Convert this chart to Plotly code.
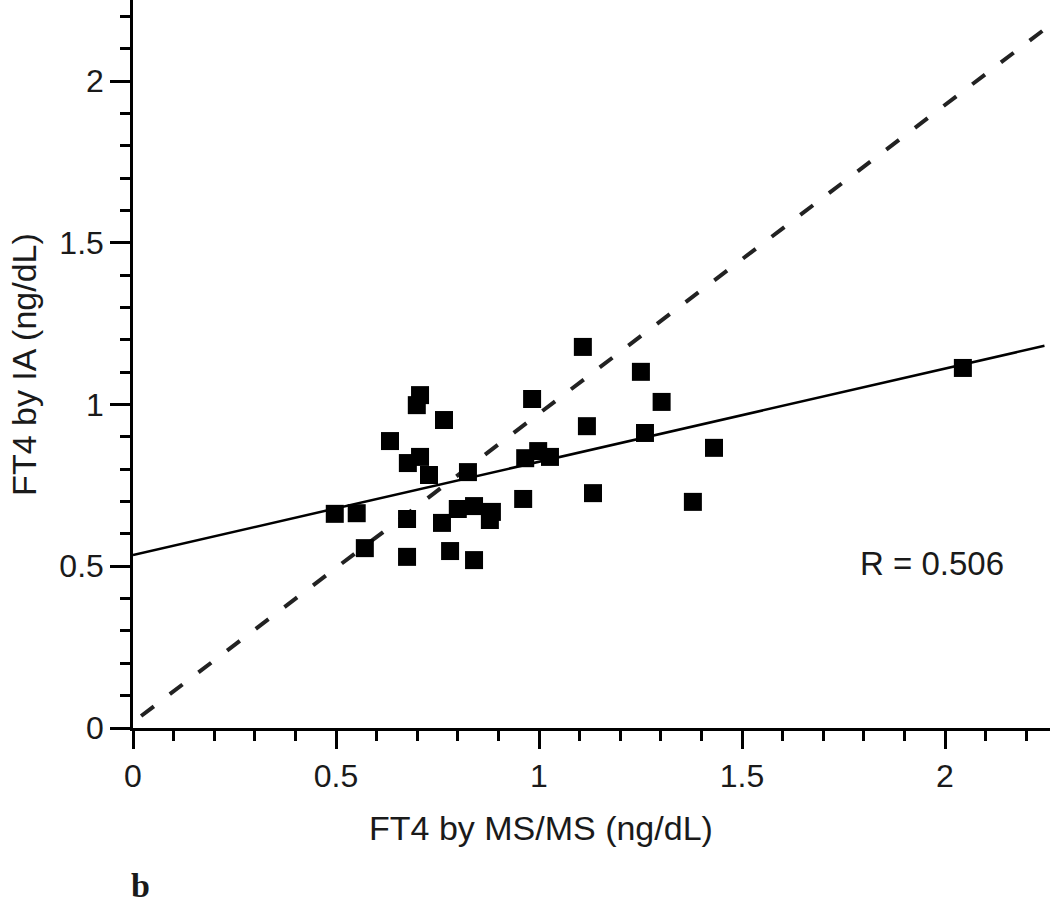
import plotly.graph_objects as go

# Data
ms_ms = [0.707, 0.699, 0.766, 0.633, 0.983, 0.677, 0.707, 0.729, 0.825, 0.966,
         0.998, 1.027, 0.497, 0.551, 0.961, 0.675, 0.761, 0.800, 0.840, 0.884,
         0.879, 0.571, 0.675, 0.781, 0.840, 1.108, 1.251, 1.302, 1.118, 1.261,
         1.431, 1.133, 1.379, 2.044]
ia = [1.029, 0.998, 0.952, 0.887, 1.017, 0.819, 0.838, 0.782, 0.791, 0.834,
      0.856, 0.838, 0.662, 0.664, 0.708, 0.646, 0.634, 0.677, 0.686, 0.668,
      0.643, 0.556, 0.529, 0.547, 0.519, 1.178, 1.101, 1.008, 0.933, 0.912,
      0.866, 0.726, 0.699, 1.113]

# Fitted lines
reg_intercept, reg_slope = 0.535, 0.288
reg_x = [0.0, 2.245]
dash_intercept, dash_slope = 0.018, 0.954
dash_x = [0.02, 2.24]

r_label = "R = 0.506"
x_title = "FT4 by MS/MS (ng/dL)"
y_title = "FT4 by IA (ng/dL)"
panel_label = "b"

x_ticks = [0, 0.5, 1, 1.5, 2]
y_ticks = [0, 0.5, 1, 1.5, 2]

FONT = "Liberation Sans, Arial, sans-serif"
TXT = "#1a1a1a"

fig = go.Figure()

fig.add_trace(go.Scatter(
    x=dash_x, y=[dash_intercept + dash_slope * v for v in dash_x],
    mode="lines", line=dict(color="#222", width=4, dash="16px,20px"),
    hoverinfo="skip", showlegend=False))

fig.add_trace(go.Scatter(
    x=reg_x, y=[reg_intercept + reg_slope * v for v in reg_x],
    mode="lines", line=dict(color="#000", width=2.5),
    hoverinfo="skip", showlegend=False))

fig.add_trace(go.Scatter(
    x=ms_ms, y=ia, mode="markers",
    marker=dict(symbol="square", size=18, color="#000", line=dict(width=0)),
    showlegend=False))

fig.update_layout(
    width=1050, height=908,
    margin=dict(l=133, r=0, t=0, b=180, autoexpand=False),
    paper_bgcolor="white", plot_bgcolor="white",
    font=dict(family=FONT, color=TXT, size=32),
    xaxis=dict(range=[0, 2.2586], tickvals=x_ticks, ticktext=[str(v) for v in x_ticks],
               showgrid=False, zeroline=False, showline=True, linecolor="#000", linewidth=2.5,
               ticks="outside", ticklen=18, tickwidth=2.5, tickcolor="#000",
               tickfont=dict(size=32, family=FONT, color=TXT),
               minor=dict(dtick=0.1, ticks="outside", ticklen=10, tickwidth=2.5, tickcolor="#000", showgrid=False)),
    yaxis=dict(range=[0, 2.2504], tickvals=y_ticks, ticktext=[str(v) for v in y_ticks],
               showgrid=False, zeroline=False, showline=True, linecolor="#000", linewidth=2.5,
               ticks="outside", ticklen=20, tickwidth=2.5, tickcolor="#000",
               tickfont=dict(size=32, family=FONT, color=TXT),
               minor=dict(dtick=0.1, ticks="outside", ticklen=10, tickwidth=2.5, tickcolor="#000", showgrid=False)),
)

fig.add_annotation(x=1.786, y=0.51, xref="x", yref="y", text=r_label, showarrow=False,
                   xanchor="left", yanchor="middle", font=dict(size=33, family=FONT, color=TXT))
fig.add_annotation(x=0.445, y=-0.1374, xref="paper", yref="paper", text=x_title, showarrow=False,
                   xanchor="center", yanchor="middle", font=dict(size=34, family=FONT, color=TXT))
fig.add_annotation(x=-0.1190, y=0.5, xref="paper", yref="paper", text=y_title, showarrow=False,
                   textangle=-90, xanchor="center", yanchor="middle", font=dict(size=34, family=FONT, color=TXT))
fig.add_annotation(x=0.0087, y=-0.217, xref="paper", yref="paper", text="<b>" + panel_label + "</b>",
                   showarrow=False, xanchor="center", yanchor="middle",
                   font=dict(size=34, family="Liberation Serif, Times New Roman, serif", color=TXT))

fig.write_html("out.html", config={"displayModeBar": False},
               post_script="document.body.style.margin='0';")
